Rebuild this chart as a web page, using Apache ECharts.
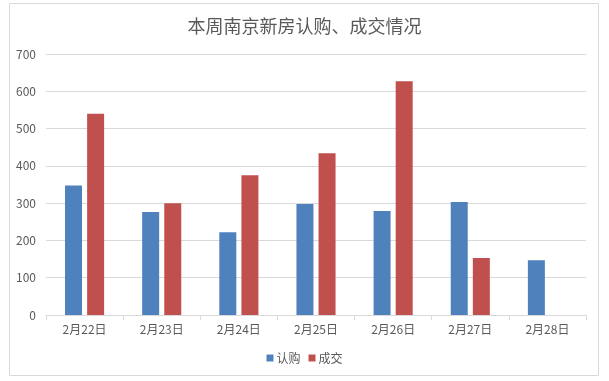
<!DOCTYPE html>
<html><head><meta charset="utf-8">
<script src="https://cdn.jsdelivr.net/npm/echarts@6/dist/echarts.min.js"></script>
<style>html,body{margin:0;padding:0;background:#fff}#c{width:609px;height:381px}</style>
</head><body><div id="c"></div>
<script>
var categories = ['2月22日','2月23日','2月24日','2月25日','2月26日','2月27日','2月28日'];
var subscribe = [347, 276, 222, 298, 279, 303, 147];
var deals = [540, 300, 375, 434, 627, 153, null];
var yTicks = [0, 100, 200, 300, 400, 500, 600, 700];

var chart = echarts.init(document.getElementById('c'));
var font = '"Noto Sans CJK SC", "Microsoft YaHei", sans-serif';
chart.setOption({
  animation: false,
  textStyle: {fontFamily: font},
  graphic: [{type: 'rect', shape: {x: 9.5, y: 3.5, width: 589, height: 372}, style: {fill: 'none', stroke: '#d9d9d9', lineWidth: 1}, silent: true, z: -1}],
  title: {text: '本周南京新房认购、成交情况', left: 'center', top: 12,
    textStyle: {fontFamily: font, fontSize: 18, fontWeight: 'normal', color: '#595959'}},
  legend: {bottom: 12, left: 'center', itemWidth: 7, itemHeight: 7, itemGap: 8, icon: 'rect',
    textStyle: {fontFamily: font, fontSize: 12, color: '#595959', padding: [0,0,0,-2]},
    data: ['认购', '成交']},
  grid: {left: 46, right: 23, top: 54, bottom: 66, containLabel: false},
  xAxis: {type: 'category', data: categories,
    axisLine: {lineStyle: {color: '#d9d9d9'}},
    axisTick: {show: true, length: 5, lineStyle: {color: '#d9d9d9'}},
    axisLabel: {color: '#595959', fontSize: 12, margin: 8, fontFamily: font}},
  yAxis: {type: 'value', min: yTicks[0], max: yTicks[yTicks.length-1], interval: 100,
    axisLine: {show: false}, axisTick: {show: false},
    splitLine: {lineStyle: {color: '#d9d9d9'}},
    axisLabel: {color: '#595959', fontSize: 12, margin: 10, fontFamily: font}},
  series: [
    {name: '认购', type: 'bar', data: subscribe, barWidth: 17, barGap: '30%', itemStyle: {color: '#4F81BD'}},
    {name: '成交', type: 'bar', data: deals, barWidth: 17, itemStyle: {color: '#C0504D'}}
  ]
});
</script></body></html>
